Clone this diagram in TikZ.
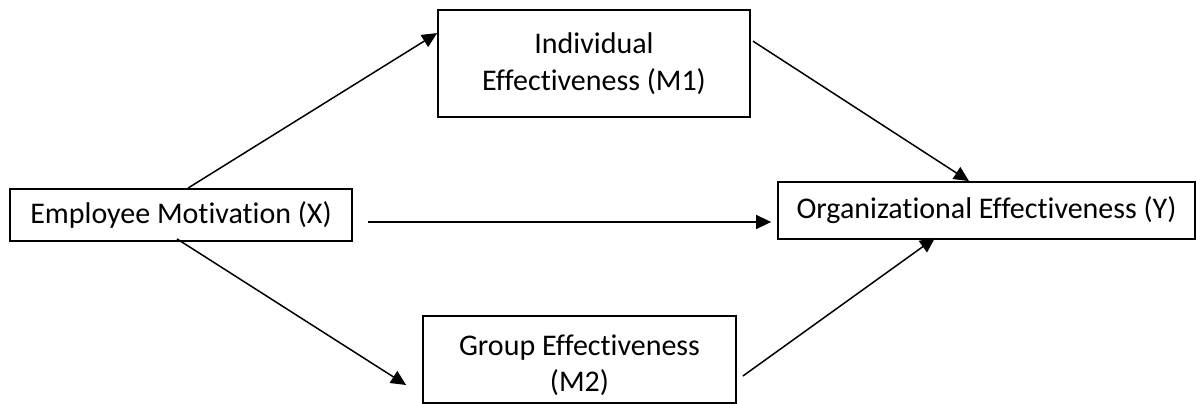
\documentclass[tikz,border=0pt]{standalone}
\usepackage{fontspec}
\setmainfont{Carlito}[Ligatures=NoCommon]
\usetikzlibrary{arrows.meta}
\begin{document}
\begin{tikzpicture}[x=1pt,y=-1pt,
  box/.style={draw, line width=1.8pt, inner sep=0pt, align=center,
    font=\fontsize{30}{36.6}\selectfont},
  txt/.style={inner sep=0pt, align=center, font=\fontsize{30}{36.6}\selectfont},
  conn/.style={line width=1.5pt, -{Triangle[length=15pt,width=14pt]}}]
\useasboundingbox (0,0) rectangle (1196,404);
\node[box, minimum width=342pt, minimum height=52pt] (x) at (181,215) {Employee Motivation (X)};
\node[box, minimum width=312pt, minimum height=107pt] (m1) at (594,63.5) {Individual\\Effectiveness (M1)};
\node[box, minimum width=313pt, minimum height=87pt] (m2) at (579.5,359.5) {};
\node[txt, text depth=4pt] (m2t) at (579.5,365) {Group Effectiveness\\(M2)};
\node[box, minimum width=417pt, minimum height=57pt] (y) at (986.5,210.5) {Organizational Effectiveness (Y)};
\draw[conn] ([xshift=7pt]x.north) -- ([yshift=-24pt]m1.north west);
\draw[conn] ([xshift=2pt,yshift=-32pt]m1.north east) -- ([xshift=-17.5pt]y.north);
\draw[conn] ([xshift=15pt,yshift=-7pt]x.east) -- ([xshift=-6pt,yshift=-11.5pt]y.west);
\draw[conn] ([xshift=-4pt,yshift=3pt]x.south) -- ([xshift=-16pt,yshift=-25.5pt]m2.west);
\draw[conn] ([xshift=6pt,yshift=-16.5pt]m2.east) -- ([xshift=-51.5pt,yshift=2pt]y.south);
\end{tikzpicture}
\end{document}
